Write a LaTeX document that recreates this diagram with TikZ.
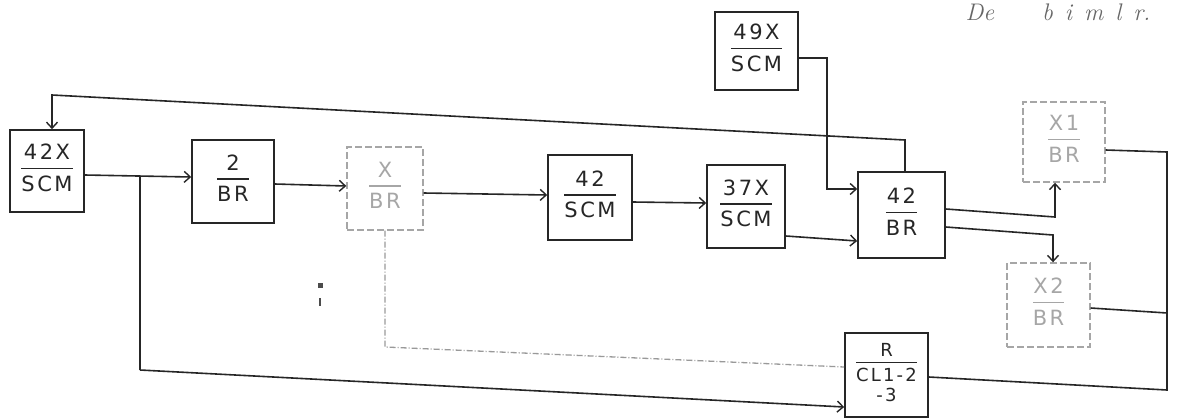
\documentclass[tikz,border=0pt]{standalone}
\usepackage{fontspec}
\usetikzlibrary{arrows.meta}
\newfontfamily\hand[LetterSpace=12]{DejaVu Sans}
\setlength{\arrayrulewidth}{1.3pt}
\newcommand\fr[2]{\begin{tabular}{@{}c@{}}#1\\[1pt]\hline\rule{0pt}{1.05em}#2\end{tabular}}
\newcommand\frr[3]{\begin{tabular}{@{}c@{}}#1\\[0pt]\hline\rule{0pt}{1.05em}#2\\[1pt]#3\end{tabular}}
\begin{document}
\begin{tikzpicture}[x=1pt,y=-1pt,
  box/.style={draw=black!85, line width=1.6pt, inner sep=0pt, font=\hand\fontsize{21}{23}\selectfont, text=black!85},
  faint/.style={draw=black!35, dash pattern=on 7pt off 3pt, line width=1.4pt, text=black!35},
  conn/.style={draw=black!85, line width=1.6pt},
  arr/.style={conn, -{Straight Barb[length=6pt,width=11pt,line width=1.4pt]}},
  dim/.style={draw=black!40, line width=1.3pt, dash pattern=on 6pt off 2pt on 1pt off 2pt}]
\useasboundingbox (0,0) rectangle (1177,418);
% boxes
\node[box, minimum width=74pt, minimum height=82pt] (A) at (47,171) {\fr{42X}{SCM}};
\node[box, minimum width=82pt, minimum height=83pt] (B) at (233,181.5) {\fr{2}{BR}};
\node[box, faint, minimum width=76pt, minimum height=83pt] (C) at (385,188.5) {\fr{X}{BR}};
\node[box, minimum width=84pt, minimum height=85pt] (D) at (590,197.5) {\fr{42}{SCM}};
\node[box, minimum width=78pt, minimum height=83pt] (E) at (746,206.5) {\fr{37X}{SCM}};
\node[box, minimum width=83pt, minimum height=78pt] (F) at (756.5,51) {\fr{49X}{SCM}};
\node[box, minimum width=87pt, minimum height=86pt] (G) at (901.5,215) {\fr{42}{BR}};
\node[box, faint, minimum width=82pt, minimum height=80pt] (H) at (1064,142) {\fr{X1}{BR}};
\node[box, faint, minimum width=83pt, minimum height=84pt] (I) at (1048.5,305) {\fr{X2}{BR}};
\node[box, minimum width=83pt, minimum height=84pt, font=\hand\fontsize{18}{18}\selectfont] (J) at (886.5,375) {\frr{R}{CL1-2}{-3}};
% handwritten note
\node[font=\itshape\fontsize{24}{26}\selectfont, text=black!60] (note) at (1058,12) {De\qquad b\enspace i\enspace m\enspace l\enspace r.};
% stray marks
\fill[black!70] (318,283) rectangle (323,288);
\fill[black!70] (319,298) rectangle (321,306);
% coordinates
\coordinate (br) at (140,176);
\coordinate (bl) at (140,370);
\coordinate (fb1) at (905,140);
\coordinate (fb2) at (52,95);
\coordinate (fv) at (827,58);
\coordinate (gh) at (1055,217);
\coordinate (gi) at (1053,235);
\coordinate (rt) at (1167,152);
\coordinate (rb) at (1167,390);
\coordinate (ri) at (1167,313);
\coordinate (cd) at (385,347);
% connectors
\draw[arr] (A.east |- 0,175) -- (B.west |- 0,177);
\draw[conn] (br) -- (bl);
\draw[arr] (bl) -- (J.west |- 0,407);
\draw[arr] (B.east |- 0,184) -- (C.west |- 0,186);
\draw[arr] (C.east |- 0,193) -- (D.west |- 0,195);
\draw[arr] (D.east |- 0,202) -- (E.west |- 0,203);
\draw[arr] (E.east |- 0,236) -- (G.west |- 0,241);
\draw[arr] (F.east |- fv) -- (fv) -- (fv |- 0,189) -- (G.west |- 0,189);
\draw[arr] (G.north -| fb1) -- (fb1) -- (fb2) -- (A.north -| fb2);
\draw[arr] (G.east |- 0,209) -- (gh) -- (H.south -| gh);
\draw[arr] (G.east |- 0,227) -- (gi) -- (I.north -| gi);
\draw[conn] (H.east |- 0,150) -- (rt) -- (rb) -- (J.east |- 0,377);
\draw[conn] (I.east |- 0,308) -- (ri);
\draw[dim] (C.south -| cd) -- (cd) -- (J.west |- 0,367);
\end{tikzpicture}
\end{document}
